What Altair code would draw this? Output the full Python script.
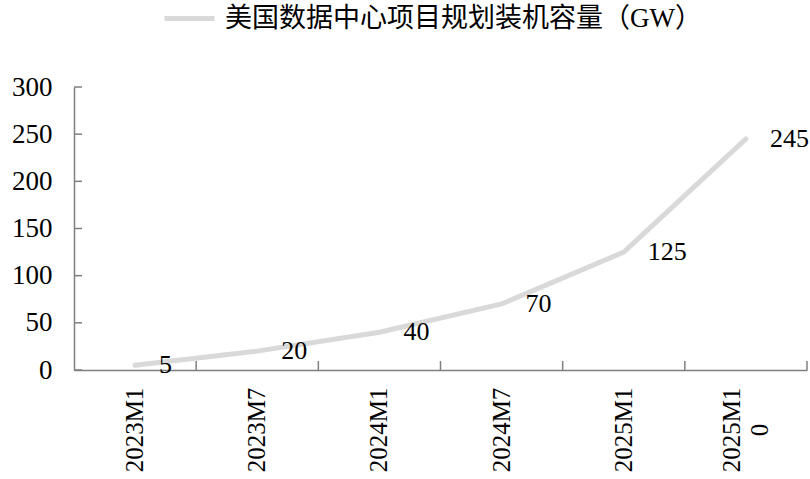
import altair as alt
import pandas as pd

months = ["2023M1", "2023M7", "2024M1", "2024M7", "2025M1", "2025M10"]
capacity = [5, 20, 40, 70, 125, 245]
series_name = "美国数据中心项目规划装机容量（GW）"
y_ticks = [0, 50, 100, 150, 200, 250, 300]

df = pd.DataFrame({"month": months, "capacity": capacity,
                   "series": [series_name] * len(months)})
tick_df = pd.DataFrame({"tick": y_ticks})

SERIF = "Liberation Serif"
CJK = "Liberation Serif, Noto Sans CJK SC"
GRAY = "#7f7f7f"
LINE = "#d9d9d9"
W, H = 733, 283

xscale = alt.Scale(type="band", paddingInner=0, paddingOuter=0)
yscale = alt.Scale(domain=[0, 300])

x_axis = alt.Axis(title=None, labels=False, ticks=False,
                  domainColor=GRAY, domainWidth=1.5)
y_axis = alt.Axis(title=None, values=y_ticks, ticks=False, grid=False,
                  labelPadding=22, labelFont=SERIF, labelFontSize=27,
                  labelColor="black", domainColor=GRAY, domainWidth=1.5)


def xe(**kw):
    return alt.X("month:N", sort=months, scale=xscale, axis=x_axis, **kw)


def ye(field):
    return alt.Y(field, scale=yscale, axis=y_axis)


base = alt.Chart(df)

x_ticks = base.mark_rule(color=GRAY, strokeWidth=1.5).encode(
    x=xe(bandPosition=1), y=alt.value(H - 9), y2=alt.value(H))

y_tick_rules = alt.Chart(tick_df).mark_rule(color=GRAY, strokeWidth=1.5).encode(
    y=ye("tick:Q"), x=alt.value(0), x2=alt.value(8))

# category labels (rotated); the long last one wraps onto two lines
cat_labels = base.transform_filter("datum.month != '2025M10'").mark_text(
    angle=270, align="center", baseline="middle", font=SERIF, fontSize=25,
    color="black").encode(x=xe(), y=alt.value(H + 60), text="month:N")

cat_label_last = base.transform_filter("datum.month == '2025M10'").transform_calculate(
    lab="[slice(datum.month, 0, 6), slice(datum.month, 6)]").mark_text(
    angle=270, align="center", baseline="middle", font=SERIF, fontSize=25,
    lineHeight=28, dy=-14, color="black").encode(
    x=xe(), y=alt.value(H + 60), text="lab:N")

line = base.mark_line(strokeWidth=5, strokeCap="round").encode(
    x=xe(), y=ye("capacity:Q"),
    color=alt.Color("series:N", scale=alt.Scale(range=[LINE]),
                    legend=alt.Legend(title=None, orient="none", legendX=88,
                                      legendY=-96, symbolType="stroke",
                                      symbolStrokeWidth=5, symbolSize=2500,
                                      labelFont=CJK, labelFontSize=27,
                                      labelColor="black", labelOffset=8,
                                      padding=0, labelLimit=800)))

labels = base.mark_text(align="left", baseline="middle", dx=24, font=SERIF,
                        fontSize=26, color="black").encode(
    x=xe(), y=ye("capacity:Q"), text="capacity:Q")

chart = alt.layer(x_ticks, y_tick_rules, line, labels, cat_labels,
                  cat_label_last).properties(
    width=W, height=H,
    autosize=alt.AutoSizeParams(type="none"),
    padding={"left": 74, "top": 87, "right": 3, "bottom": 109},
).configure_view(stroke=None)

chart.save("out.html", embed_options={"renderer": "svg", "actions": False})
